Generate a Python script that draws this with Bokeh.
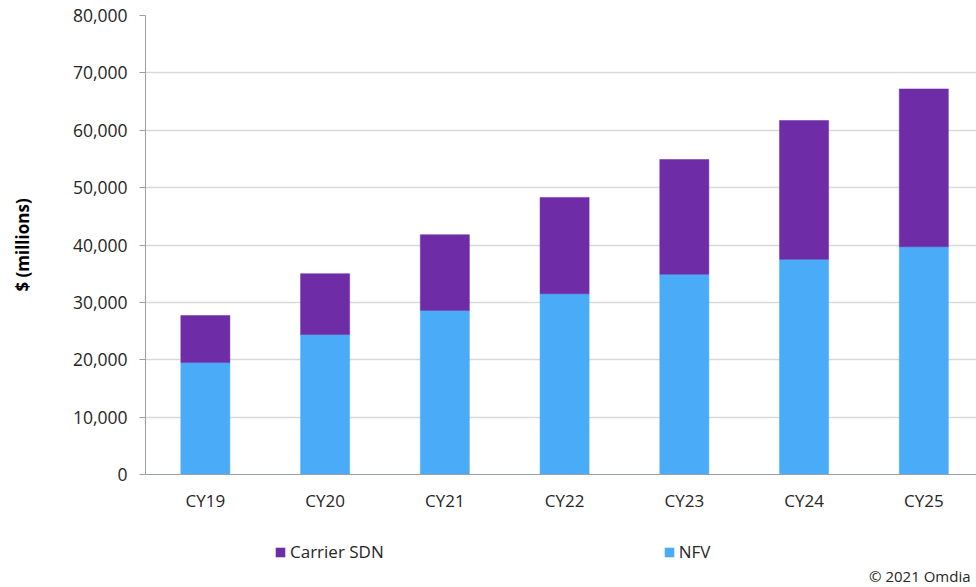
from bokeh.plotting import figure
from bokeh.layouts import column
from bokeh.models import (Range1d, ColumnDataSource, NumeralTickFormatter, FixedTicker,
                          Legend, LegendItem, Label)
from bokeh.embed import file_html
from bokeh.resources import INLINE

categories = ["CY19", "CY20", "CY21", "CY22", "CY23", "CY24", "CY25"]
nfv = [19500, 24400, 28600, 31500, 34900, 37500, 39700]
carrier_sdn = [8200, 10600, 13200, 16800, 20000, 24200, 27500]
y_ticks = [0, 10000, 20000, 30000, 40000, 50000, 60000, 70000, 80000]
series_names = ["Carrier SDN", "NFV"]

FONT = "Open Sans"
NFV_COLOR = "#4AACF8"
SDN_COLOR = "#6E2DA6"
TEXT_COLOR = "#262626"
AXIS_COLOR = "#9AA0A6"

xs = list(range(len(categories)))
src = ColumnDataSource(dict(
    x=xs,
    nfv=nfv,
    sdn=carrier_sdn,
    total=[a + b for a, b in zip(nfv, carrier_sdn)],
))

p = figure(width=976, height=520, output_backend="svg", toolbar_location=None,
           x_range=Range1d(-0.5, 6.44), y_range=Range1d(0, 80000),
           min_border_left=145, min_border_right=0, min_border_top=15,
           min_border_bottom=46)
p.outline_line_color = None
p.background_fill_color = "white"
p.border_fill_color = "white"

p.vbar(x="x", bottom=0, top="nfv", width=0.41, source=src,
       fill_color=NFV_COLOR, line_color=NFV_COLOR, line_width=0.5)
p.vbar(x="x", bottom="nfv", top="total", width=0.41, source=src,
       fill_color=SDN_COLOR, line_color=SDN_COLOR, line_width=0.5)

# Y axis
p.yaxis.ticker = FixedTicker(ticks=y_ticks)
p.yaxis.formatter = NumeralTickFormatter(format="0,0")
p.yaxis.axis_label = "$ (millions)"
p.yaxis.axis_label_text_font = FONT
p.yaxis.axis_label_text_font_style = "bold"
p.yaxis.axis_label_text_font_size = "17px"
p.yaxis.axis_label_text_color = "black"
p.yaxis.axis_label_standoff = 36
p.yaxis.major_label_text_font = FONT
p.yaxis.major_label_text_font_size = "17.5px"
p.yaxis.major_label_text_color = TEXT_COLOR
p.yaxis.major_label_standoff = 12
p.yaxis.major_tick_out = 6
p.yaxis.major_tick_in = 0
p.yaxis.minor_tick_out = 0
p.yaxis.minor_tick_in = 0
p.yaxis.axis_line_color = AXIS_COLOR
p.yaxis.major_tick_line_color = AXIS_COLOR

# X axis
p.xaxis.ticker = FixedTicker(ticks=xs)
p.xaxis.major_label_overrides = {i: c for i, c in zip(xs, categories)}
p.xaxis.major_label_text_font = FONT
p.xaxis.major_label_text_font_size = "17px"
p.xaxis.major_label_text_color = TEXT_COLOR
p.xaxis.major_label_standoff = 14
p.xaxis.major_tick_out = 0
p.xaxis.major_tick_in = 0
p.xaxis.minor_tick_out = 0
p.xaxis.minor_tick_in = 0
p.xaxis.axis_line_color = AXIS_COLOR

# Grid
p.xgrid.grid_line_color = None
p.ygrid.ticker = FixedTicker(ticks=y_ticks)
p.ygrid.grid_line_color = "#D9D9D9"
p.ygrid.grid_line_width = 1.5

# Legend strip below the chart (its frame is aligned with the chart frame)
f2 = figure(width=976, height=67, output_backend="svg", toolbar_location=None,
            x_axis_type=None, y_axis_type=None,
            x_range=Range1d(-20, -19), y_range=Range1d(-20, -19),
            min_border=0)
f2.outline_line_color = None
f2.xgrid.visible = False
f2.ygrid.visible = False
# same series, drawn outside this strip's view: only their legend keys show
sdn_key = f2.vbar(x="x", bottom="nfv", top="total", width=0.41, source=src,
                  fill_color=SDN_COLOR, line_color=None)
nfv_key = f2.vbar(x="x", bottom=0, top="nfv", width=0.41, source=src,
                  fill_color=NFV_COLOR, line_color=None)

legend = Legend(items=[LegendItem(label=series_names[0], renderers=[sdn_key]),
                       LegendItem(label=series_names[1], renderers=[nfv_key])],
                location=(129, 24), orientation="horizontal",
                spacing=279, padding=0, margin=0,
                glyph_width=12, glyph_height=12, label_standoff=4,
                label_height=12,
                label_text_font=FONT, label_text_font_size="17px",
                label_text_color=TEXT_COLOR,
                border_line_color=None, background_fill_alpha=0)
f2.add_layout(legend, "center")

f2.add_layout(Label(x=825, y=12, x_units="screen", y_units="screen",
                    text="\u00a9 2021 Omdia", text_align="right",
                    text_baseline="alphabetic", text_font=FONT,
                    text_font_size="15px", text_color=TEXT_COLOR))

layout = column(p, f2, spacing=0)
open("out.html", "w").write(file_html(layout, INLINE))
